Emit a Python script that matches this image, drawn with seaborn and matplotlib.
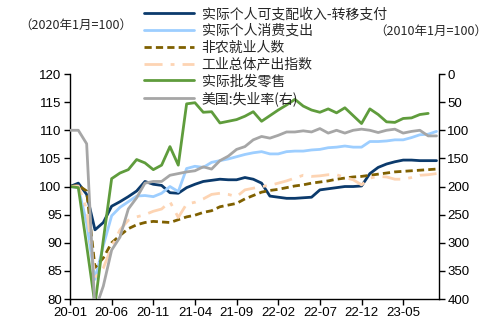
import numpy as np
import pandas as pd
import matplotlib
matplotlib.use("Agg")
import matplotlib.pyplot as plt
import seaborn as sns

# Monthly series, 2020-01 .. 2023-09 (left axis: 2020-01 = 100)
income_ex_transfers = [100.0, 100.6, 98.6, 92.3, 93.6, 96.5, 97.3, 98.2, 99.2, 100.9,
                       100.4, 100.2, 98.9, 98.8, 99.8, 100.4, 100.9, 101.1, 101.3, 101.2,
                       101.2, 101.6, 101.3, 100.6, 98.3, 98.1, 97.9, 97.9, 98.0, 98.1,
                       99.4, 99.6, 99.8, 100.0, 100.0, 100.1, 102.3, 103.4, 104.0, 104.4,
                       104.7, 104.7, 104.6, 104.6, 104.6]
consumption = [100.0, 99.8, 93.5, 83.5, 89.5, 94.8, 96.3, 97.3, 98.3, 98.4,
               98.2, 98.8, 100.0, 99.1, 103.2, 103.6, 103.4, 104.3, 104.6, 104.9,
               105.3, 105.7, 106.0, 106.2, 105.8, 105.8, 106.2, 106.3, 106.3, 106.5,
               106.6, 106.9, 107.0, 107.2, 107.0, 107.0, 108.0, 108.0, 108.1, 108.3,
               108.3, 108.7, 109.2, 109.3, 109.8]
payrolls = [100.0, 100.2, 99.2, 85.6, 87.3, 90.0, 91.3, 92.5, 93.2, 93.6,
            93.8, 93.7, 93.6, 94.1, 94.6, 94.9, 95.4, 95.7, 96.4, 96.7,
            97.0, 97.8, 98.4, 99.0, 99.3, 99.5, 99.8, 100.1, 100.3, 100.6,
            100.8, 101.0, 101.3, 101.5, 101.7, 101.8, 102.0, 102.2, 102.4, 102.6,
            102.7, 102.8, 102.9, 103.0, 103.1]
industrial_output = [100.0, 100.1, 96.0, 83.8, 85.5, 89.3, 92.3, 94.0, 94.6, 95.0,
                     95.6, 96.0, 97.3, 94.5, 96.9, 97.2, 97.8, 98.6, 98.8, 98.6,
                     98.2, 99.4, 99.7, 100.0, 100.2, 100.6, 101.0, 101.5, 102.0, 101.8,
                     101.9, 102.1, 102.1, 101.6, 101.2, 100.3, 101.5, 101.8, 101.7, 101.3,
                     101.3, 101.6, 102.0, 102.1, 102.3]
wholesale_retail = [100.0, 99.8, 89.5, 79.0, 90.5, 101.4, 102.4, 103.0, 104.8, 104.2,
                    103.0, 103.8, 107.1, 103.8, 114.7, 114.9, 113.2, 113.3, 111.3, 111.6,
                    111.9, 112.5, 113.3, 111.6, 112.6, 113.6, 114.5, 115.5, 114.3, 113.6,
                    113.2, 113.8, 113.1, 114.0, 112.6, 111.2, 113.8, 112.8, 111.5, 111.4,
                    112.1, 112.2, 112.8, 113.0]
# Right axis (inverted)
unemployment = [100, 100, 124, 420, 377, 313, 290, 240, 220, 194,
                191, 191, 180, 177, 174, 172, 165, 169, 154, 146,
                134, 129, 117, 111, 114, 109, 103, 103, 101, 103,
                97, 105, 100, 105, 100, 98, 100, 104, 100, 98,
                105, 102, 100, 110, 110]

tick_pos = [0, 5, 10, 15, 20, 25, 30, 35, 40]
tick_labels = ["20-01", "20-06", "20-11", "21-04", "21-09",
               "22-02", "22-07", "22-12", "23-05"]

labels = ["实际个人可支配收入-转移支付", "实际个人消费支出", "非农就业人数",
          "工业总体产出指数", "实际批发零售", "美国:失业率(右)"]

sns.set_theme(style="ticks")
cjk = ["Noto Sans CJK SC", "DejaVu Sans"]
plt.rcParams["font.family"] = ["Liberation Sans", "DejaVu Sans"]

fig = plt.figure(figsize=(5, 3.27), dpi=100)
ax = fig.add_axes([0.14, 0.0856, 0.738, 0.688])
ax2 = ax.twinx()

lw = 2.0
sns.lineplot(x=np.arange(len(income_ex_transfers)), y=income_ex_transfers, ax=ax,
             color="#0b3a6c", linewidth=lw, label=labels[0], legend=False)
sns.lineplot(x=np.arange(len(consumption)), y=consumption, ax=ax,
             color="#9dceff", linewidth=lw, label=labels[1], legend=False)
sns.lineplot(x=np.arange(len(payrolls)), y=payrolls, ax=ax,
             color="#7f6000", linewidth=lw, label=labels[2], legend=False)
ax.lines[-1].set_dashes((2.6, 1.5))
sns.lineplot(x=np.arange(len(industrial_output)), y=industrial_output, ax=ax,
             color="#fdd4b3", linewidth=lw, label=labels[3], legend=False)
ax.lines[-1].set_dashes((6.5, 2.9, 1.4, 2.9))
sns.lineplot(x=np.arange(len(wholesale_retail)), y=wholesale_retail, ax=ax,
             color="#5f9c3c", linewidth=lw, label=labels[4], legend=False)
sns.lineplot(x=np.arange(len(unemployment)), y=unemployment, ax=ax2,
             color="#a6a6a6", linewidth=lw, label=labels[5], legend=False)

ax.set_xlim(0, 44.3)
ax.set_ylim(80, 120)
ax.set_yticks(range(80, 121, 5))
ax2.set_ylim(400, 0)
ax2.set_yticks(range(0, 401, 50))
ax.set_xticks(tick_pos)
ax.set_xticklabels(tick_labels)
ax.set_xlabel("")
ax.set_ylabel("")
ax2.set_ylabel("")

for a in (ax, ax2):
    a.spines["top"].set_visible(False)
    for s in ("left", "right", "bottom"):
        a.spines[s].set_color("black")
        a.spines[s].set_linewidth(1.0)
    a.tick_params(axis="both", direction="out", length=4, width=1, colors="black",
                  labelsize=9.5, pad=2)
ax.spines["right"].set_visible(False)
ax2.spines["left"].set_visible(False)
ax2.spines["bottom"].set_visible(False)

handles = ax.get_lines()[:5] + ax2.get_lines()[:1]
fig.legend(handles, labels, loc="upper left", bbox_to_anchor=(0.288, 0.978),
           frameon=False, prop={"family": cjk, "size": 10}, handlelength=3.6,
           handletextpad=0.55, labelspacing=0.2, borderpad=0, borderaxespad=0)

fig.text(0.152, 0.923, "（2020年1月=100）", ha="center", va="center",
         fontsize=9, family=cjk)
fig.text(0.862, 0.905, "（2010年1月=100）", ha="center", va="center",
         fontsize=9, family=cjk)

fig.savefig("out.png", dpi=100, facecolor="white")
